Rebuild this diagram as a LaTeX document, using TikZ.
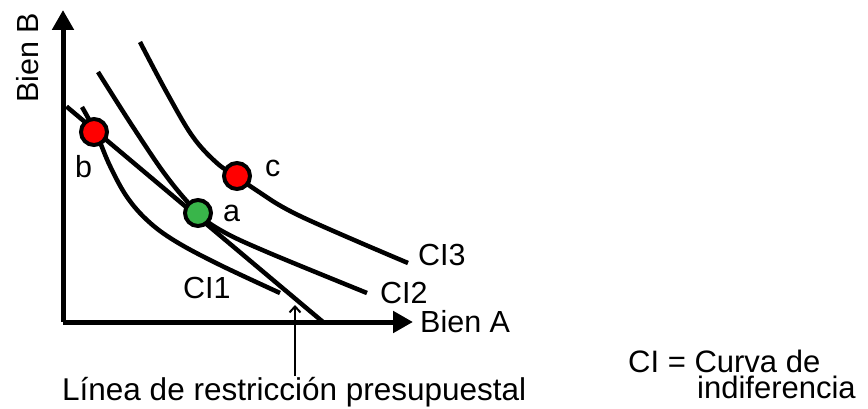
\documentclass[tikz,border=0pt]{standalone}
\usepackage{fontspec}
\setmainfont{Liberation Sans}
\usepackage{xcolor}
\usetikzlibrary{arrows.meta,positioning}
\definecolor{dotred}{RGB}{255,0,0}
\definecolor{dotgreen}{RGB}{57,181,74}

\begin{document}
\begin{tikzpicture}[x=1pt,y=-1pt,
  axis/.style={line width=5pt,-{Triangle[length=20pt,width=21pt]}},
  curve/.style={line width=4.5pt},
  dot/.style={circle,draw,line width=4pt,minimum size=26pt,inner sep=0pt},
  lbl/.style={anchor=base west,inner sep=0pt,font=\fontsize{30.5}{34}\selectfont},
  note/.style={lbl,font=\fontsize{31.5}{34}\selectfont}]
\useasboundingbox (0,0) rectangle (868,409);

\coordinate (origin) at (63,322);
\coordinate (ytop) at (63,10);
\coordinate (xend) at (413,322);
\coordinate (bstart) at (66.5,106.5);
\coordinate (bend) at (323,322);

% indifference curves
\draw[curve] plot[smooth,tension=0.6] coordinates {(82,107) (96,133) (110,166) (127,197) (148,221) (175,241) (218,264) (280,293)};
\draw[curve] plot[smooth,tension=0.6] coordinates {(98,72) (133,127) (167,177) (198,213) (222,231) (267,252) (367,293)};
\draw[curve] plot[smooth,tension=0.6] coordinates {(140,42) (167,93) (193,137) (218,164) (237,176) (256,190) (300,216) (408,263)};

% budget line
\draw[curve] (bstart) -- (bend);

% axes
\draw[axis] (origin) -- (ytop);
\draw[axis] (origin) -- (xend);

% points
\node[dot,fill=dotred] (b) at (94,132) {};
\node[dot,fill=dotgreen] (a) at (198,213) {};
\node[dot,fill=dotred] (c) at (237,176) {};

\node[lbl] (lb) at (75,178) {b};
\node[lbl] (la) at (223,222) {a};
\node[lbl] (lc) at (265,177) {c};
\node[lbl] (ci1) at (183,298) {CI1};
\node[lbl] (ci2) at (380,303) {CI2};
\node[lbl] (ci3) at (418,265) {CI3};
\node[lbl] (bienA) at (420,332) {Bien A};
\node[lbl,anchor=base,rotate=90] (bienB) at (38,58) {Bien B};

% budget line pointer
\node[note] (linea) at (62,400) {Línea de restricción presupuestal};
\coordinate (ptrtip) at (295,305);
\coordinate (ptrfoot) at (295,376);
\draw[line width=2pt,-{Straight Barb[length=6pt,width=11pt]}] (ptrfoot) -- (ptrtip);

\node[note,font=\fontsize{31}{34}\selectfont] (ci) at (628,372) {CI = Curva de};
\node[note,font=\fontsize{31}{34}\selectfont] (indif) at (697,398) {indiferencia};
\end{tikzpicture}
\end{document}
